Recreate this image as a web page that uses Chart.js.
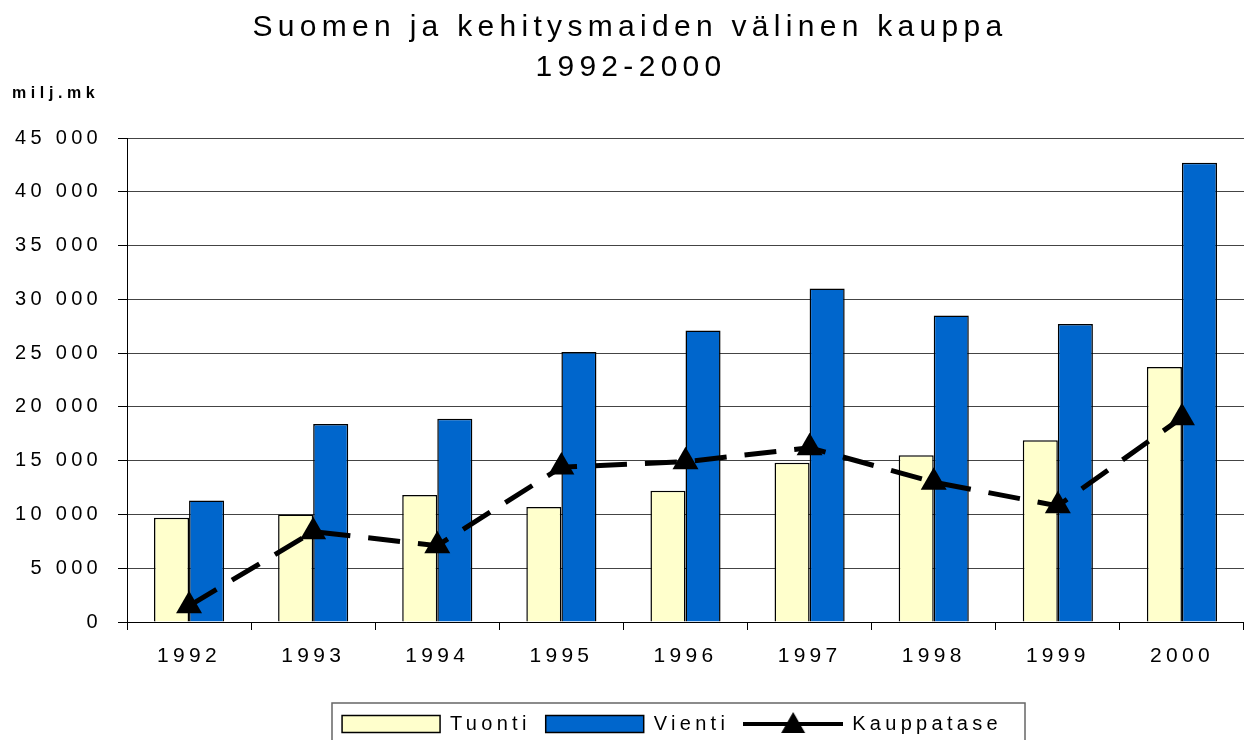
<!DOCTYPE html>
<html>
<head>
<meta charset="utf-8">
<script src="https://cdn.jsdelivr.net/npm/chart.js@4/dist/chart.umd.min.js"></script>
<style>
html,body{margin:0;padding:0;background:#fff;}
#wrap{width:1244px;height:740px;position:relative;}
</style>
</head>
<body>
<div id="wrap"><canvas id="c" width="1244" height="740"></canvas></div>
<script>
const titleLines = ['Suomen ja kehitysmaiden välinen kauppa', '1992-2000'];
const unitLabel = 'milj.mk';
const years = ['1992','1993','1994','1995','1996','1997','1998','1999','2000'];
const tuonti = [9700, 10000, 11800, 10700, 12200, 14800, 15500, 16900, 23700];
const vienti = [11300, 18400, 18900, 25100, 27100, 31000, 28500, 27700, 42700];
const kauppatase = [1500, 8400, 7100, 14400, 14900, 16200, 13000, 10800, 19000];
const seriesNames = ['Tuonti', 'Vienti', 'Kauppatase'];

const FONT = '"Liberation Sans", Arial, sans-serif';
Chart.defaults.font.family = FONT;
Chart.defaults.color = '#000';

// legend swatch for the line series: solid line with triangle
const lineSwatch = document.createElement('canvas');
lineSwatch.width = 100; lineSwatch.height = 28;
(function(){
  const g = lineSwatch.getContext('2d');
  g.strokeStyle = '#000'; g.lineWidth = 4;
  g.beginPath(); g.moveTo(0, 14); g.lineTo(100, 14); g.stroke();
  g.fillStyle = '#000';
  g.beginPath(); g.moveTo(50, 2); g.lineTo(62, 23); g.lineTo(38, 23); g.closePath(); g.fill();
})();

const SP = '4.3px';
const deco = {
  id: 'deco',
  beforeUpdate(c){ c.ctx.letterSpacing = SP; },
  beforeLayout(c){ c.ctx.letterSpacing = SP; },
  afterLayout(c){
    const lg = c.legend;
    if (lg) { lg.left += 50; lg.right += 50; lg.top += 4; lg.bottom += 4; }
  },
  beforeDraw(c){ c.ctx.letterSpacing = SP; },
  afterDraw(c){
    const ctx = c.ctx;
    ctx.save();
    ctx.fillStyle = '#000';
    ctx.textAlign = 'center';
    ctx.textBaseline = 'alphabetic';
    ctx.font = '30px ' + FONT;
    ctx.letterSpacing = '5.3px';
    ctx.fillText(titleLines[0], 630, 36);
    ctx.fillText(titleLines[1], 631, 76);
    ctx.textAlign = 'left';
    ctx.font = 'bold 16px ' + FONT;
    ctx.letterSpacing = '4.6px';
    ctx.fillText(unitLabel, 12, 98);
    // legend frame
    ctx.strokeStyle = '#666';
    ctx.lineWidth = 1.5;
    ctx.strokeRect(332, 703, 1025 - 332, 50);
    ctx.restore();
  }
};

new Chart(document.getElementById('c'), {
  type: 'bar',
  data: {
    labels: years,
    datasets: [
      { label: seriesNames[0], data: tuonti, backgroundColor: '#FFFFCC', borderColor: '#000', borderWidth: 1.5, order: 2, barPercentage: 1, categoryPercentage: 0.565 },
      { label: seriesNames[1], data: vienti, backgroundColor: '#0066CC', borderColor: '#000', borderWidth: 1.5, order: 2, barPercentage: 1, categoryPercentage: 0.565 },
      { type: 'line', label: seriesNames[2], data: kauppatase, borderColor: '#000', backgroundColor: '#000', borderWidth: 5, borderDash: [32, 18], pointStyle: 'triangle', pointRadius: 15, pointHoverRadius: 15, pointBackgroundColor: '#000', pointBorderColor: '#000', pointBorderWidth: 0, tension: 0, order: 1 }
    ]
  },
  options: {
    responsive: false,
    animation: false,
    events: [],
    layout: { autoPadding: false, padding: { top: 138, right: 0, bottom: 0, left: 0 } },
    scales: {
      x: {
        offset: true,
        grid: { offset: true, drawOnChartArea: false, drawTicks: true, tickLength: 8, color: '#000', lineWidth: 1 },
        border: { display: true, color: '#000', width: 1 },
        ticks: { font: { size: 21 }, color: '#000', padding: 14, maxRotation: 0 },
        afterFit(s){ s.height = 73; s.paddingLeft = 0; s.paddingRight = 0; }
      },
      y: {
        min: 0, max: 45000,
        grid: { color: '#444', lineWidth: 1, drawTicks: true, tickLength: 9, tickColor: '#000' },
        border: { display: true, color: '#000', width: 1 },
        ticks: {
          stepSize: 5000, font: { size: 20 }, color: '#000', padding: 16,
          callback: v => v === 0 ? '0' : String(v).replace(/\B(?=(\d{3})+(?!\d))/g, ' ')
        },
        afterFit(s){ s.width = 127; s.paddingTop = 0; s.paddingBottom = 0; }
      }
    },
    plugins: {
      title: { display: false },
      tooltip: { enabled: false },
      legend: {
        display: true,
        position: 'bottom',
        labels: {
          font: { size: 20 }, color: '#000',
          usePointStyle: true, pointStyleWidth: 98, boxHeight: 17, padding: 15,
          sort: (a, b) => a.datasetIndex - b.datasetIndex,
          generateLabels(chart){
            const items = Chart.defaults.plugins.legend.labels.generateLabels(chart);
            items.forEach(it => {
              if (it.datasetIndex === 2) { it.pointStyle = lineSwatch; it.lineDash = []; }
              else { it.pointStyle = 'rect'; it.lineWidth = 1.5; it.strokeStyle = '#000'; }
            });
            return items;
          }
        }
      }
    }
  },
  plugins: [deco]
});
</script>
</body>
</html>
